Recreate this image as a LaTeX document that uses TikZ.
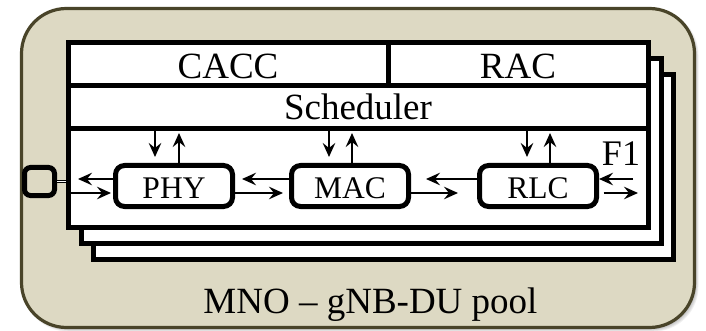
\documentclass[tikz,border=0pt]{standalone}
\usepackage{fontspec}
\setmainfont{Liberation Serif}
\usetikzlibrary{arrows.meta}
\definecolor{tanfill}{HTML}{DDD9C3}
\definecolor{tanedge}{HTML}{494429}
\tikzset{
  pool/.style={draw=tanedge, fill=tanfill, line width=3.2pt, rounded corners=45pt, inner sep=0pt},
  panel/.style={draw=black, fill=white, line width=5pt, minimum width=580pt, minimum height=184pt, inner sep=0pt},
  row/.style={draw=black, fill=white, line width=5pt, inner sep=0pt, minimum height=43pt, text depth=0pt, font=\fontsize{37}{40}\selectfont},
  layer/.style={draw=black, fill=white, line width=5pt, rounded corners=9pt, minimum width=117pt, minimum height=41pt, inner sep=0pt, text height=24pt, text depth=0pt, font=\fontsize{31.5}{34}\selectfont},
  port/.style={draw=black, fill=tanfill, line width=5pt, rounded corners=6pt, minimum width=30pt, minimum height=28pt, inner sep=0pt},
  arr/.style={line width=2.4pt, -{Stealth[length=14pt,width=12.5pt,inset=5pt]}},
  caption/.style={anchor=base, inner sep=0pt},
}
\begin{document}
\begin{tikzpicture}[x=1pt,y=-1pt]
\useasboundingbox (0,0) rectangle (706,331);
% soft shadow under the pool
\foreach \g in {0,...,5}
  \fill[black, opacity=0.06, rounded corners=45pt]
    (23+\g*0.7, 10+\g*0.7) rectangle (698.5-\g*0.7, 331.5-\g*0.7);
\node[pool, minimum width=673pt, minimum height=319pt] (pool) at (358,168) {};

% stacked DU instances
\node[panel] (back2) at (383,167) {};
\node[panel] (back1) at (371,151) {};
\node[panel] (front) at (358,135) {};
\node[row, minimum width=320pt, text height=29pt] (cacc) at (228,64.5) {CACC};
\node[row, minimum width=260pt, text height=29pt] (rac) at (518,64.5) {RAC};
\node[row, minimum width=580pt, text height=25pt] (sched) at (358,107.5) {Scheduler};

% protocol layers
\node[layer] (phy) at (174,186) {PHY};
\node[layer] (mac) at (350,186) {MAC};
\node[layer] (rlc) at (538,186) {RLC};

% fronthaul port
\node[port] (port) at (39.5,181.5) {};
\draw[line width=1pt, double=white, double distance=1.6pt] (port.east) -- (port.east -| front.west);

% horizontal data paths
\coordinate (phyU) at ([yshift=7pt]phy.west);
\coordinate (phyD) at ([yshift=-7pt]phy.west);
\draw[arr, shorten >=12.5pt] (phyU) -- (phyU -| front.west);
\draw[arr, shorten <=4.5pt, shorten >=2pt] (phyD -| front.west) -- (phyD);

\draw[arr, shorten >=7pt] ([yshift=7pt]mac.west) -- ([yshift=7pt]phy.east);
\draw[arr, shorten >=6pt] ([yshift=-7pt]phy.east) -- ([yshift=-7pt]mac.west);
\draw[arr, shorten >=15pt] ([yshift=7pt]rlc.west) -- ([yshift=7pt]mac.east);
\draw[arr, shorten >=19pt] ([yshift=-7pt]mac.east) -- ([yshift=-7pt]rlc.west);

\coordinate (fin) at (633,179);
\coordinate (fout) at (638,193);
\draw[arr] (fin) -- (fin -| rlc.east);
\draw[arr, shorten <=4.5pt] (fout -| rlc.east) -- (fout);
\node[caption, font=\fontsize{36}{40}\selectfont] (f1) at (621,166) {F1};

% scheduler control paths
\coordinate (pd) at ([xshift=-19pt]phy.north);
\coordinate (pu) at ([xshift=5pt]phy.north);
\coordinate (md) at ([xshift=-21pt]mac.north);
\coordinate (mu) at ([xshift=2pt]mac.north);
\coordinate (rd) at ([xshift=-11pt]rlc.north);
\coordinate (ru) at ([xshift=12pt]rlc.north);
\foreach \d/\u in {pd/pu, md/mu, rd/ru} {
  \draw[arr, shorten >=6pt] (\d |- sched.south) -- (\d);
  \draw[arr, shorten >=1.5pt] (\u) -- (\u |- sched.south);
}

\node[caption, font=\fontsize{37}{40}\selectfont] (title) at (370.5,313) {MNO -- gNB-DU pool};
\end{tikzpicture}
\end{document}
